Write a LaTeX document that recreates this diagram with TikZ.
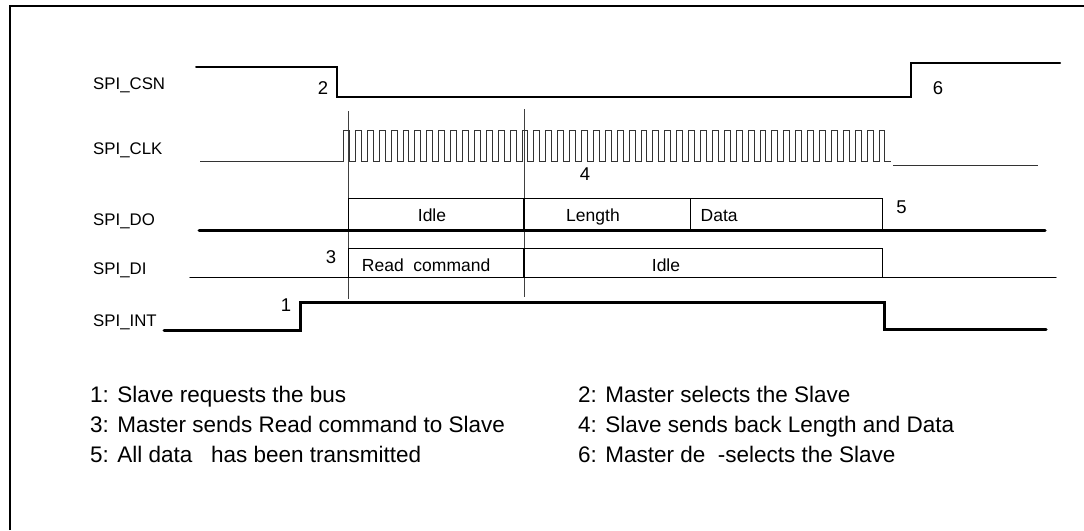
\documentclass[tikz,border=0pt]{standalone}
\usepackage{fontspec}
\setmainfont{Liberation Sans}

\begin{document}
\begin{tikzpicture}[x=1pt,y=-1pt,every node/.style={inner sep=0pt},
  every path/.style={line cap=round},
  signame/.style={anchor=base west,font=\fontsize{16.8}{18}\selectfont},
  stepnum/.style={anchor=base,font=\fontsize{18.5}{20}\selectfont},
  field/.style={anchor=base,font=\fontsize{17.5}{19}\selectfont},
  note/.style={anchor=base west,font=\fontsize{22.5}{26}\selectfont},
  frameline/.style={line width=2.4pt,line cap=butt},
  csnwave/.style={line width=2pt},
  clkwave/.style={line width=1pt,draw=black!80,line cap=butt},
  dowave/.style={line width=3pt},
  diwave/.style={line width=1.4pt},
  intwave/.style={line width=3pt},
  boxline/.style={line width=1.6pt,line cap=butt},
  cursor/.style={line width=0.9pt,draw=black!75,line cap=butt}]
\useasboundingbox (0,0) rectangle (1084,530);
\draw[frameline] (10,530) -- (10,6) -- (1084,6);
\node[signame] (csn) at (93,89)    {SPI\_CSN};
\node[signame] (clk) at (93,154)   {SPI\_CLK};
\node[signame] (do)  at (93,225)   {SPI\_DO};
\node[signame] (di)  at (93,274)   {SPI\_DI};
\node[signame] (int) at (93,326.7) {SPI\_INT};
\draw[cursor] (348.3,111) -- (348.3,299);
\draw[cursor] (524,109) -- (524,297);
\draw[csnwave] (196,66.5) -- (337,66.5) -- (337,96.7) -- (910.5,96.7) -- (910.5,63.3) -- (1060,63.3);
\draw[clkwave] (200,161.5) -- (343.5,161.5)
  \foreach \k in {0,...,45} { -- ++(0,-31) -- ++(5.95,0) -- ++(0,31) -- ++(5.95,0) };
\draw[clkwave] (893,165) -- (1038,165);
\draw[dowave] (199,230) -- (1045,230);
\draw[boxline] (348.3,230) -- (348.3,198.5) -- (882.5,198.5) -- (882.5,230);
\draw[boxline] (524,198.5) -- (524,230);
\draw[boxline] (690.5,198.5) -- (690.5,230);
\draw[diwave] (190,277.7) -- (1056,277.7);
\draw[boxline] (348.3,277.7) -- (348.3,248.3) -- (882.5,248.3) -- (882.5,277.7);
\draw[boxline] (524,248.3) -- (524,277.7);
\draw[intwave] (164,330.7) -- (300,330.7) -- (300,302.3) -- (884,302.3) -- (884,329.3) -- (1046,329.3);
\node[field] (doidle) at (432,221)                  {Idle};
\node[field] (dolen)  at (593,221)                  {Length};
\node[field,anchor=base west] (dodata) at (700.5,221) {Data};
\node[field,anchor=base west] (dicmd)  at (361.7,271.7) {Read\ \ command};
\node[field] (diidle) at (666,271)                  {Idle};
\node[stepnum] (n1) at (286,311.7) {1};
\node[stepnum] (n2) at (323,94)    {2};
\node[stepnum] (n3) at (331,263.3) {3};
\node[stepnum] (n4) at (585,180)   {4};
\node[stepnum] (n5) at (901.5,213) {5};
\node[stepnum] (n6) at (938,94)    {6};
\node[note] (l1) at (90,402)  {1: Slave requests the bus};
\node[note] (l3) at (90,432)  {3: Master sends Read command to Slave};
\node[note] (l5) at (90,462)  {5: All data\ \ \ has been transmitted};
\node[note] (l2) at (578,402) {2: Master selects the Slave};
\node[note] (l4) at (578,432) {4: Slave sends back Length and Data};
\node[note] (l6) at (578,462) {6: Master de\ \ -selects the Slave};
\end{tikzpicture}
\end{document}
